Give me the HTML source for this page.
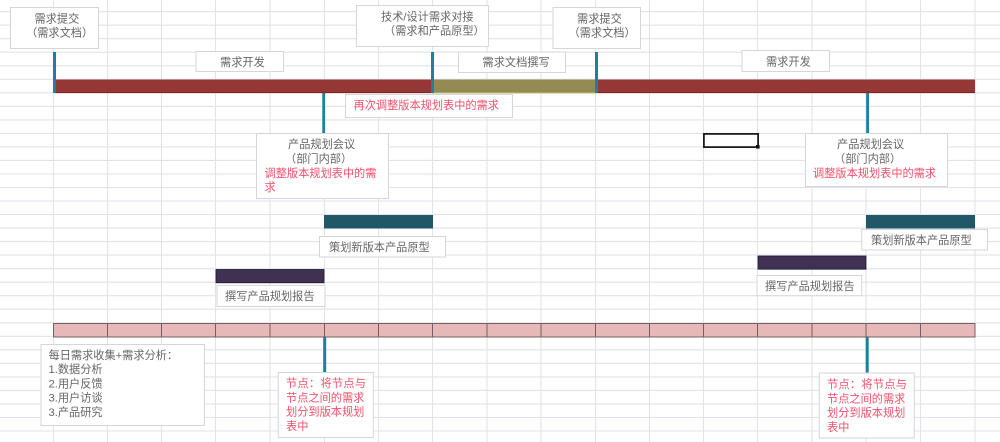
<!DOCTYPE html>
<html><head><meta charset="utf-8">
<style>
html,body{margin:0;padding:0;background:#fff;width:1000px;height:442px;overflow:hidden}
svg{display:block;filter:blur(.3px)}
text{font-family:"Liberation Sans","Noto Sans CJK SC",sans-serif;font-size:11.2px;fill:#666}
.r{fill:#f2506a}
.b{fill:#fff;stroke:#d4d6da;stroke-width:1}
</style></head><body>
<svg width="1000" height="442" viewBox="0 0 1000 442" xmlns="http://www.w3.org/2000/svg">
<g stroke="#e2e3e8" stroke-width="1.1" fill="none">
<path d="M0 11.7H1000M0 25.2H1000M0 38.7H1000M0 52.2H1000M0 65.8H1000M0 79.3H1000M0 92.8H1000M0 106.3H1000M0 119.9H1000M0 133.4H1000M0 146.9H1000M0 160.4H1000M0 174H1000M0 187.5H1000M0 201H1000M0 214.6H1000M0 228.1H1000M0 241.6H1000M0 255.1H1000M0 268.7H1000M0 282.2H1000M0 295.7H1000M0 309.2H1000M0 322.8H1000M0 336.3H1000M0 349.8H1000M0 363.3H1000M0 376.9H1000M0 390.4H1000M0 403.9H1000M0 417.4H1000M0 431H1000"/>
<path d="M53.5 0V442M107.5 0V442M161.5 0V442M215.5 0V442M270 0V442M324.5 0V442M378.5 0V442M432.5 0V442M487 0V442M541 0V442M595.5 0V442M649.5 0V442M703.5 0V442M757.5 0V442M812 0V442M866 0V442M920.5 0V442M975 0V442"/>
</g>

<!-- top bar -->
<rect x="55" y="79.5" width="920" height="13.5" fill="#953735"/>
<rect x="55" y="92.3" width="920" height="0.8" fill="#7a1a1a"/>
<rect x="432" y="79.5" width="165" height="13.5" fill="#948a54"/>
<rect x="432" y="92.5" width="165" height="0.9" fill="#c4bc6a"/>

<!-- connectors -->
<g fill="#1f7f9e">
<rect x="53" y="52" width="3" height="41"/>
<rect x="431" y="52" width="3" height="41"/>
<rect x="595" y="52" width="3" height="41"/>
<rect x="322.3" y="93" width="2.8" height="41"/>
<rect x="866.2" y="93" width="2.8" height="41"/>
<rect x="323.2" y="337" width="3" height="36"/>
<rect x="865.7" y="337" width="3" height="37"/>
</g>

<!-- planning bars -->
<rect x="324" y="215" width="109" height="13.5" fill="#215868"/>
<rect x="866" y="215" width="109" height="13.5" fill="#215868"/>
<rect x="216" y="269.5" width="108" height="13.3" fill="#403152" stroke="#1d1a3a" stroke-width=".8"/>
<rect x="758" y="256" width="108" height="13.2" fill="#403152" stroke="#1d1a3a" stroke-width=".8"/>

<!-- pink row -->
<rect x="53.5" y="323.5" width="921.5" height="13.5" fill="#e6b9b8" stroke="#6b5558" stroke-width=".9"/>
<path d="M107.5 323.5V337M161.5 323.5V337M215.5 323.5V337M270 323.5V337M324.5 323.5V337M378.5 323.5V337M432.5 323.5V337M487 323.5V337M541 323.5V337M595.5 323.5V337M649.5 323.5V337M703.5 323.5V337M757.5 323.5V337M812 323.5V337M866 323.5V337M920.5 323.5V337" stroke="#6b5558" stroke-width=".9" fill="none"/>

<!-- selection -->
<rect x="703.9" y="133.9" width="54.2" height="13.2" fill="#fff" stroke="#111" stroke-width="1.7"/>
<rect x="756" y="145" width="3.6" height="3.6" fill="#111"/>

<!-- boxes -->
<rect class="b" x="10.5" y="7.5" width="88" height="41"/>
<text x="34.5" y="22.5">需求提交</text>
<text x="26" y="36.5">（需求文档）</text>

<rect class="b" x="356.5" y="5.5" width="132" height="41"/>
<text x="381" y="20.5">技术/设计需求对接</text>
<text x="384" y="34.5">（需求和产品原型）</text>

<rect class="b" x="553" y="7.5" width="87.5" height="41"/>
<text x="577" y="22.5">需求提交</text>
<text x="568.5" y="36.5">（需求文档）</text>

<rect class="b" x="196" y="51.5" width="87.5" height="20"/>
<text x="220" y="66">需求开发</text>

<rect class="b" x="458.5" y="52" width="107" height="20.5"/>
<text x="482.5" y="66">需求文档撰写</text>

<rect class="b" x="742" y="50.5" width="87.5" height="21"/>
<text x="766" y="65.5">需求开发</text>

<rect class="b" x="345.5" y="94.5" width="167" height="23"/>
<text class="r" x="353.5" y="109">再次调整版本规划表中的需求</text>

<rect class="b" x="256.5" y="133.5" width="132" height="65"/>
<text x="288" y="148">产品规划会议</text>
<text x="285" y="162.5">（部门内部）</text>
<text class="r" x="264.5" y="177">调整版本规划表中的需</text>
<text class="r" x="264.5" y="191">求</text>

<rect class="b" x="805.5" y="133.5" width="142" height="53"/>
<text x="837" y="148">产品规划会议</text>
<text x="834" y="162.5">（部门内部）</text>
<text class="r" x="813" y="177">调整版本规划表中的需求</text>

<rect class="b" x="319.5" y="236.5" width="126" height="20.5"/>
<text x="329" y="251">策划新版本产品原型</text>

<rect class="b" x="861.7" y="229.5" width="125.8" height="20.5"/>
<text x="871" y="244">策划新版本产品原型</text>

<rect class="b" x="217" y="285.5" width="108" height="21"/>
<text x="225" y="300">撰写产品规划报告</text>

<rect class="b" x="757" y="275.5" width="104.7" height="20.2"/>
<text x="765" y="290">撰写产品规划报告</text>

<rect class="b" x="41" y="344.5" width="163.5" height="81"/>
<text x="48.5" y="359">每日需求收集+需求分析：</text>
<text x="48.5" y="373">1.数据分析</text>
<text x="48.5" y="387.5">2.用户反馈</text>
<text x="48.5" y="401.5">3.用户访谈</text>
<text x="48.5" y="416">3.产品研究</text>

<rect class="b" x="278.3" y="372.5" width="95" height="65"/>
<text class="r" x="286" y="387" textLength="80">节点：将节点与</text>
<text class="r" x="286" y="401.5">节点之间的需求</text>
<text class="r" x="286" y="415.5">划分到版本规划</text>
<text class="r" x="286" y="430">表中</text>

<rect class="b" x="819.3" y="373" width="95" height="65"/>
<text class="r" x="827" y="388" textLength="80">节点：将节点与</text>
<text class="r" x="827" y="402.5">节点之间的需求</text>
<text class="r" x="827" y="416.5">划分到版本规划</text>
<text class="r" x="827" y="431">表中</text>
</svg>
</body></html>
